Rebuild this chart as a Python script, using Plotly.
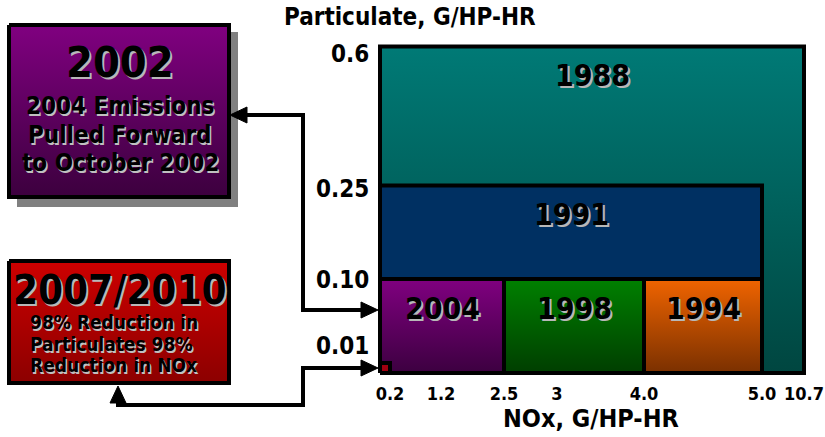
import numpy as np
import plotly.graph_objects as go

# ------------------------------------------------------------------ data
NOX_TICKS = [0.2, 1.2, 2.5, 3, 4.0, 5.0, 10.7]
NOX_TICK_TEXT = ["0.2", "1.2", "2.5", "3", "4.0", "5.0", "10.7"]
PM_TICKS = [0.01, 0.10, 0.25, 0.6]
PM_TICK_TEXT = ["0.01", "0.10", "0.25", "0.6"]

# emission standard regions (visible part of each box), drawn in this order
STD_YEARS = ["1988", "1991", "1994", "1998", "2004", "2007/2010"]
STD_NOX_LOW = [0, 0, 4.0, 2.5, 0, 0]
STD_NOX_HIGH = [10.7, 5.0, 5.0, 4.0, 2.5, 0.2]
STD_PM_LOW = [0, 0.10, 0, 0, 0, 0]
STD_PM_HIGH = [0.6, 0.25, 0.10, 0.10, 0.10, 0.01]
STD_SHOW_LABEL = [True, True, True, True, True, False]

CALLOUT_2002_TITLE = "2002"
CALLOUT_2002_LINES = ["2004 Emissions", "Pulled Forward", "to October 2002"]
CALLOUT_2007_TITLE = "2007/2010"
CALLOUT_2007_LINES = ["98% Reduction in", "Particulates 98%", "Reduction in NOx"]

X_TITLE = "NOx, G/HP-HR"
Y_TITLE = "Particulate, G/HP-HR"

# ------------------------------------------------------------------ layout / style
W, H = 825, 437
FONT = "DejaVu Sans Condensed, DejaVu Sans, sans-serif"

# schematic (non-linear) axis: where each tick value sits, in pixel-like units
X_ANCHOR_POS = [0, 10, 61, 124, 177, 264, 382, 424]   # for [0] + NOX_TICKS
Y_ANCHOR_POS = [0, 10, 94, 187.5, 326.5]               # for [0] + PM_TICKS
Y_LABEL_NUDGE = [17, -1, -3, -7]                       # px nudge of each PM tick label
Y_LABEL_RIGHT_PX = 371
X_ORIGIN_PX, Y_ORIGIN_PX = 380, 373
X_DOM_PX = (376, 808)
Y_DOM_PX = (42, 377)

STD_COLORS = {
    "1988": ("rgb(0,122,118)", "rgb(0,70,64)"),
    "1991": ("rgb(0,48,98)", "rgb(0,48,98)"),
    "1994": ("rgb(240,100,0)", "rgb(122,48,0)"),
    "1998": ("rgb(0,128,0)", "rgb(0,62,0)"),
    "2004": ("rgb(128,0,128)", "rgb(60,0,64)"),
    "2007/2010": ("rgb(160,0,16)", "rgb(160,0,16)"),
}
SHADOW_BIG = "2px 2px 0px #b8b8b8"
SHADOW_SMALL = "1.5px 1.5px 0px #c0c0c0"


def xmap(v):
    return float(np.interp(v, [0] + NOX_TICKS, X_ANCHOR_POS))


def ymap(v):
    return float(np.interp(v, [0] + PM_TICKS, Y_ANCHOR_POS))


fig = go.Figure()

# ---- standard boxes on the main (schematic) axes
for yr, xl, xh, yl, yh in zip(STD_YEARS, STD_NOX_LOW, STD_NOX_HIGH, STD_PM_LOW, STD_PM_HIGH):
    x0, x1, y0, y1 = xmap(xl), xmap(xh), ymap(yl), ymap(yh)
    top, bot = STD_COLORS[yr]
    fig.add_trace(go.Scatter(
        x=[x0, x1, x1, x0, x0], y=[y0, y0, y1, y1, y0],
        mode="lines", line=dict(color="black", width=4),
        fill="toself",
        fillgradient=dict(type="vertical", colorscale=[[0, bot], [1, top]]),
        hoverinfo="skip", showlegend=False, xaxis="x", yaxis="y"))

annotations = []


def label(text, x, y, size, xref, yref, shadow=SHADOW_BIG, xanchor="center", yshift=0):
    annotations.append(dict(text=text, x=x, y=y, xref=xref, yref=yref,
                            xanchor=xanchor, yanchor="middle", showarrow=False,
                            yshift=yshift,
                            font=dict(family=FONT, size=size, color="black",
                                      weight="bold", shadow=shadow)))


for yr, xl, xh, yh, show in zip(STD_YEARS, STD_NOX_LOW, STD_NOX_HIGH, STD_PM_HIGH, STD_SHOW_LABEL):
    if show:
        label(yr, (xmap(xl) + xmap(xh)) / 2, ymap(yh), 30, "x", "y", yshift=-29)

# PM tick labels placed on the y scale
for v, t, dy in zip(PM_TICKS, PM_TICK_TEXT, Y_LABEL_NUDGE):
    annotations.append(dict(text=t, x=Y_LABEL_RIGHT_PX / W, y=ymap(v), xref="paper", yref="y",
                            xanchor="right", yanchor="middle", showarrow=False, yshift=dy,
                            font=dict(family=FONT, size=24, color="black", weight="bold")))

# ---- overlay axis in pixel units for the callouts
fig.add_trace(go.Scatter(x=[17, 238, 238, 17, 17], y=[32, 32, 207, 207, 32],
                         mode="lines", line=dict(width=0), fill="toself",
                         fillcolor="rgb(128,128,128)", hoverinfo="skip",
                         showlegend=False, xaxis="x2", yaxis="y2"))
fig.add_trace(go.Scatter(x=[9, 229, 229, 9, 9], y=[25, 25, 197, 197, 25],
                         mode="lines", line=dict(color="black", width=4), fill="toself",
                         fillgradient=dict(type="vertical",
                                           colorscale=[[0, "rgb(60,0,62)"], [1, "rgb(128,0,128)"]]),
                         hoverinfo="skip", showlegend=False, xaxis="x2", yaxis="y2"))
fig.add_trace(go.Scatter(x=[9, 229, 229, 9, 9], y=[261, 261, 383, 383, 261],
                         mode="lines", line=dict(color="black", width=4), fill="toself",
                         fillgradient=dict(type="vertical",
                                           colorscale=[[0, "rgb(140,0,0)"], [1, "rgb(205,0,0)"]]),
                         hoverinfo="skip", showlegend=False, xaxis="x2", yaxis="y2"))

label(CALLOUT_2002_TITLE, 120, 62, 43, "x2", "y2")
for i, t in enumerate(CALLOUT_2002_LINES):
    label(t, 120, 106 + 28.5 * i, 24, "x2", "y2", shadow=SHADOW_SMALL)
label(CALLOUT_2007_TITLE, 119, 290, 40, "x2", "y2")
for i, t in enumerate(CALLOUT_2007_LINES):
    label(t, 28, 322 + 21.5 * i, 19, "x2", "y2", shadow=SHADOW_SMALL, xanchor="left")

# axis titles
annotations.append(dict(text=Y_TITLE, x=410, y=17, xref="x2", yref="y2", showarrow=False,
                        font=dict(family=FONT, size=24, color="black", weight="bold")))
annotations.append(dict(text=X_TITLE, x=591, y=418, xref="x2", yref="y2", showarrow=False,
                        font=dict(family=FONT, size=25, color="black", weight="bold")))

# ---- connector arrows (pixel overlay)
shapes = []
LINE = dict(color="black", width=4)
shapes.append(dict(type="path", xref="x2", yref="y2", line=LINE,
                   path="M 244 115 L 303 115 L 303 310 L 364 310"))
shapes.append(dict(type="path", xref="x2", yref="y2", line=LINE,
                   path="M 364 368 L 303 368 L 303 405 L 118 405 L 118 398"))
for p in ["M 230 115 L 247 107 L 247 123 Z",
          "M 378 310 L 361 302 L 361 318 Z",
          "M 378 368 L 361 360 L 361 376 Z",
          "M 118 386 L 110 403 L 126 403 Z"]:
    shapes.append(dict(type="path", xref="x2", yref="y2", path=p,
                       fillcolor="black", line=dict(color="black", width=1)))

fig.update_layout(
    width=W, height=H, margin=dict(l=0, r=0, t=0, b=0, pad=0, autoexpand=False),
    paper_bgcolor="white", plot_bgcolor="rgba(0,0,0,0)",
    showlegend=False,
    xaxis=dict(domain=[X_DOM_PX[0] / W, X_DOM_PX[1] / W],
               range=[X_DOM_PX[0] - X_ORIGIN_PX, X_DOM_PX[1] - X_ORIGIN_PX],
               tickvals=[xmap(v) for v in NOX_TICKS], ticktext=NOX_TICK_TEXT,
               tickfont=dict(family=FONT, size=18, color="black", weight="bold"),
               showgrid=False, zeroline=False, showline=False, ticks="",
               ticklabelstandoff=4, ticklabeloverflow="allow",
               anchor="y", fixedrange=True, automargin=False),
    yaxis=dict(domain=[1 - Y_DOM_PX[1] / H, 1 - Y_DOM_PX[0] / H],
               range=[Y_ORIGIN_PX - Y_DOM_PX[1], Y_ORIGIN_PX - Y_DOM_PX[0]],
               tickvals=[ymap(v) for v in PM_TICKS], showticklabels=False,
               showgrid=False, zeroline=False, showline=False, ticks="",
               anchor="x", fixedrange=True, automargin=False),
    xaxis2=dict(domain=[0, 1], range=[0, W], visible=False, anchor="y2", fixedrange=True),
    yaxis2=dict(domain=[0, 1], range=[H, 0], visible=False, anchor="x2", fixedrange=True),
    annotations=annotations, shapes=shapes,
)

fig.write_html("out.html", config={"displayModeBar": False},
               post_script="document.body.style.margin='0';")
